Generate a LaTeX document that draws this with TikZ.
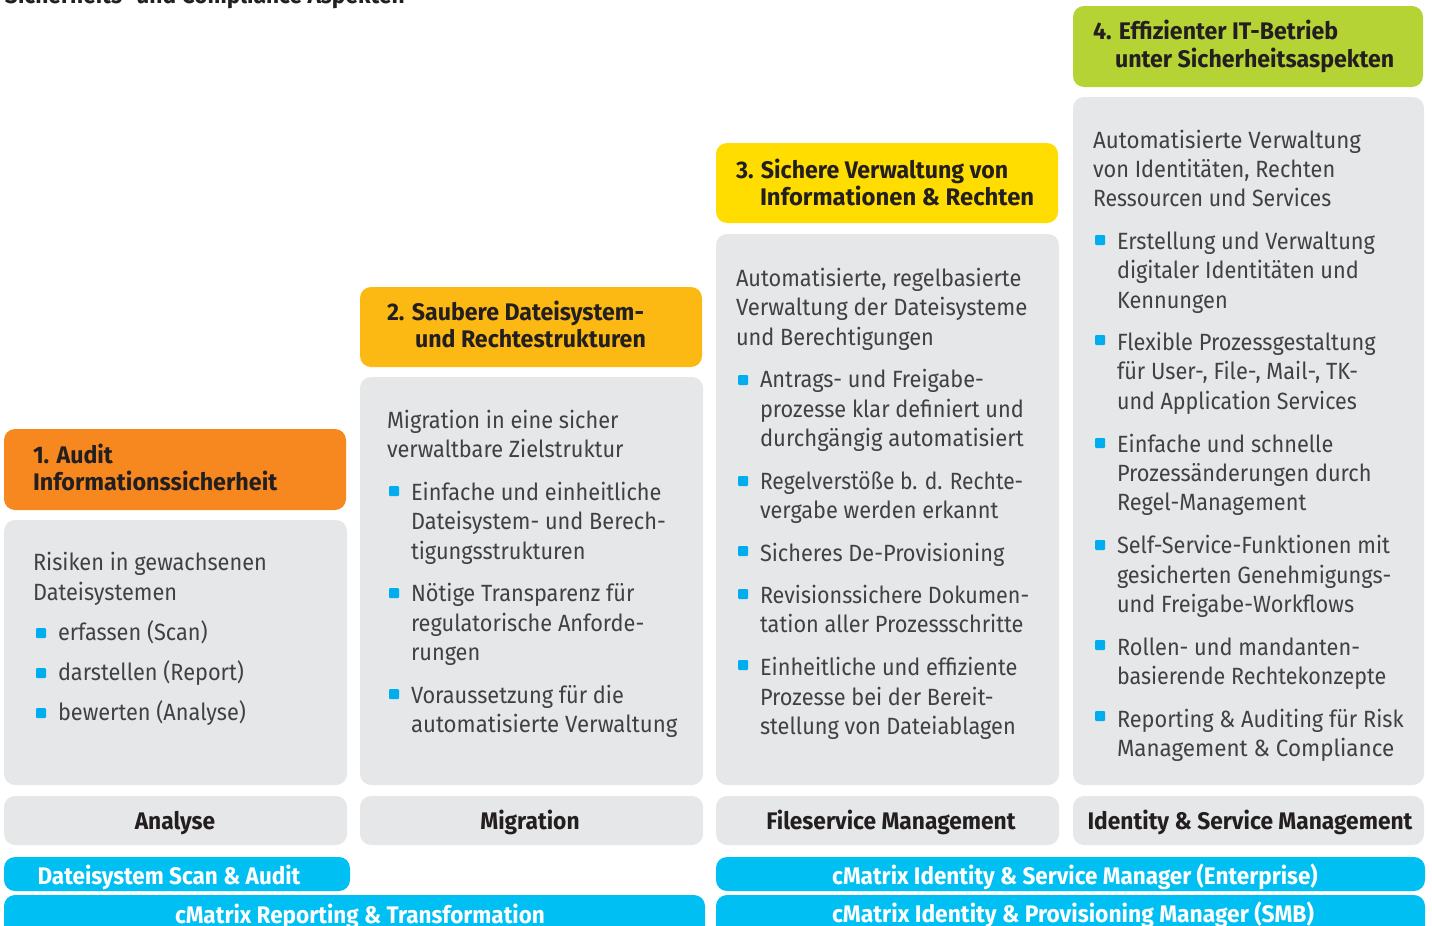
\documentclass[tikz,border=0pt]{standalone}
\usepackage{graphicx}
\usepackage{fontspec}
\setmainfont{Fira Sans}
\newfontfamily\bodyf{Fira Sans}[FakeStretch=0.925]
\newfontfamily\headf{Fira Sans}[FakeStretch=0.965]
\newfontfamily\footf{Fira Sans}[FakeStretch=0.948]
\newfontfamily\barf{Fira Sans}[FakeStretch=0.938]
\definecolor{cOrange}{HTML}{F7871F}
\definecolor{cAmber}{HTML}{FDB913}
\definecolor{cYellow}{HTML}{FFDD00}
\definecolor{cGreen}{HTML}{B5D334}
\definecolor{cGrey}{HTML}{E6E7E8}
\definecolor{cBlue}{HTML}{00C0F3}
\definecolor{cBullet}{HTML}{00AEEF}
\definecolor{cBody}{HTML}{414042}
\definecolor{cHead}{HTML}{231F20}
\newcounter{nn}
\newcommand{\bx}[6]{\node[panel,fill=#1,minimum width=#4-#3,minimum height=#6-#5] (#2) at ({(#3+#4)/2},{(#5+#6)/2}) {};}
\newcommand{\bodyl}[3]{\stepcounter{nn}\node[bodytext] (n\arabic{nn}) at (#1,#2) {#3};}
\newcommand{\headl}[3]{\stepcounter{nn}\node[headtext] (n\arabic{nn}) at (#1,#2) {#3};}
\newcommand{\buli}[4]{\stepcounter{nn}\node[bulletmark] (n\arabic{nn}) at (#1+5,#3) {};\stepcounter{nn}\node[bodytext] (n\arabic{nn}) at (#1+22,#2) {#4};}
\tikzset{
 panel/.style={rounded corners=11pt,draw=none,inner sep=0pt,outer sep=0pt},
 bodytext/.style={anchor=base west,inner sep=0pt,outer sep=0pt,text=cBody,font=\bodyf\fontsize{23.5pt}{23.5pt}\selectfont},
 headtext/.style={anchor=base west,inner sep=0pt,outer sep=0pt,text=cHead,font=\headf\fontsize{24pt}{24pt}\selectfont\bfseries},
 foottext/.style={anchor=base,inner sep=0pt,outer sep=0pt,text=cHead,font=\footf\fontsize{24pt}{24pt}\selectfont\bfseries},
 bartext/.style={anchor=base,inner sep=0pt,outer sep=0pt,text=white,font=\barf\fontsize{24pt}{24pt}\selectfont\bfseries},
 bulletmark/.style={fill=cBullet,minimum size=10pt,inner sep=0pt,outer sep=0pt,rounded corners=1pt}
}
\begin{document}
\begin{tikzpicture}[x=1pt,y=-1pt]
\useasboundingbox (0,0) rectangle (1432,926);
\clip (0,0) rectangle (1432,926);
\node[headtext,font=\footf\fontsize{24pt}{24pt}\selectfont\bfseries] (toptitle) at (5,3) {Sicherheits- und Compliance Aspekten};
% headers
\bx{cOrange}{h1}{4}{346}{429}{510}
\bx{cAmber}{h2}{360}{702}{287}{367}
\bx{cYellow}{h3}{716}{1058}{143}{223}
\bx{cGreen}{h4}{1073}{1423}{6}{87}
% panels
\bx{cGrey}{p1}{4}{347}{520}{785}
\bx{cGrey}{p2}{360}{703}{377}{785}
\bx{cGrey}{p3}{716}{1059}{234}{785}
\bx{cGrey}{p4}{1073}{1424}{97}{785}
% footers
\bx{cGrey}{f1}{4}{347}{796}{845}
\bx{cGrey}{f2}{360}{703}{796}{845}
\bx{cGrey}{f3}{716}{1059}{796}{845}
\bx{cGrey}{f4}{1073}{1424}{796}{845}
% bars
\bx{cBlue}{b1}{4}{350}{857}{891}
\bx{cBlue}{b2}{4}{705}{895}{950}
\bx{cBlue}{b3}{716}{1425}{857}{891}
\bx{cBlue}{b4}{716}{1425}{895}{950}
% column 1
\headl{33}{463}{1. Audit}
\headl{33}{490}{\scalebox{1.008}[1]{Informationssicherheit}}
\bodyl{33}{570}{Risiken in gewachsenen}
\bodyl{33}{600}{Dateisystemen}
\buli{36}{640}{633}{erfassen (Scan)}
\buli{36}{680}{673}{darstellen (Report)}
\buli{36}{720}{713}{bewerten (Analyse)}
% column 2
\headl{387}{320}{2. Saubere Dateisystem-}
\headl{415}{347}{und Rechtestrukturen}
\bodyl{387}{428}{Migration in eine sicher}
\bodyl{387}{457}{verwaltbare Zielstruktur}
\buli{389}{500}{491}{Einfache und einheitliche}
\bodyl{411}{529}{Dateisystem- und Berech-}
\bodyl{411}{559}{tigungsstrukturen}
\buli{389}{601}{593}{Nötige Transparenz für}
\bodyl{411}{631}{regulatorische Anforde-}
\bodyl{411}{660}{rungen}
\buli{389}{703}{694}{Voraussetzung für die}
\bodyl{411}{732}{\scalebox{1.023}[1]{automatisierte Verwaltung}}
% column 3
\headl{736}{178}{3. Sichere Verwaltung von}
\headl{760}{205}{\scalebox{1.03}[1]{Informationen \& Rechten}}
\bodyl{736}{286}{Automatisierte, regelbasierte}
\bodyl{736}{315}{\scalebox{1.02}[1]{Verwaltung der Dateisysteme}}
\bodyl{736}{345}{und Berechtigungen}
\buli{738}{387}{380}{Antrags- und Freigabe-}
\bodyl{760}{417}{prozesse klar definiert und}
\bodyl{760}{446}{\scalebox{1.015}[1]{durchgängig automatisiert}}
\buli{738}{489}{481}{\scalebox{0.966}[1]{Regelverstöße b. d. Rechte-}}
\bodyl{760}{518}{vergabe werden erkannt}
\buli{738}{561}{551}{Sicheres De-Provisioning}
\buli{738}{603}{594}{\scalebox{0.99}[1]{Revisionssichere Dokumen-}}
\bodyl{760}{632}{tation aller Prozessschritte}
\buli{738}{675}{665}{Einheitliche und effiziente}
\bodyl{760}{705}{Prozesse bei der Bereit-}
\bodyl{760}{734}{stellung von Dateiablagen}
% column 4
\headl{1093}{39}{4. Effizienter IT-Betrieb}
\headl{1115}{67}{unter Sicherheitsaspekten}
\bodyl{1093}{148}{\scalebox{1.027}[1]{Automatisierte Verwaltung}}
\bodyl{1093}{177}{von Identitäten, Rechten}
\bodyl{1093}{206}{\scalebox{0.98}[1]{Ressourcen und Services}}
\buli{1095}{249}{240}{Erstellung und Verwaltung}
\bodyl{1117}{278}{digitaler Identitäten und}
\bodyl{1117}{308}{Kennungen}
\buli{1095}{350}{340}{Flexible Prozessgestaltung}
\bodyl{1117}{379}{für User-, File-, Mail-, TK-}
\bodyl{1117}{409}{\scalebox{0.987}[1]{und Application Services}}
\buli{1095}{452}{443}{Einfache und schnelle}
\bodyl{1117}{481}{Prozessänderungen durch}
\bodyl{1117}{510}{Regel-Management}
\buli{1095}{553}{545}{Self-Service-Funktionen mit}
\bodyl{1117}{583}{gesicherten Genehmigungs-}
\bodyl{1117}{612}{und Freigabe-Workflows}
\buli{1095}{655}{645}{Rollen- und mandanten-}
\bodyl{1117}{684}{\scalebox{0.989}[1]{basierende Rechtekonzepte}}
\buli{1095}{727}{716}{Reporting \& Auditing für Risk}
\bodyl{1117}{756}{\scalebox{1.03}[1]{Management \& Compliance}}
% footer labels
\node[foottext] (tf1) at (175,829) {Analyse};
\node[foottext] (tf2) at (530,829) {Migration};
\node[foottext] (tf3) at (891,829) {Fileservice Management};
\node[foottext] (tf4) at (1250,829) {Identity \& Service Management};
\node[bartext] (tb1) at (169,884) {Dateisystem Scan \& Audit};
\node[bartext] (tb2) at (360,923) {cMatrix Reporting \& Transformation};
\node[bartext] (tb3) at (1075,884) {cMatrix Identity \& Service Manager (Enterprise)};
\node[bartext] (tb4) at (1073,922) {\scalebox{1.013}[1]{cMatrix Identity \& Provisioning Manager (SMB)}};
\end{tikzpicture}
\end{document}
